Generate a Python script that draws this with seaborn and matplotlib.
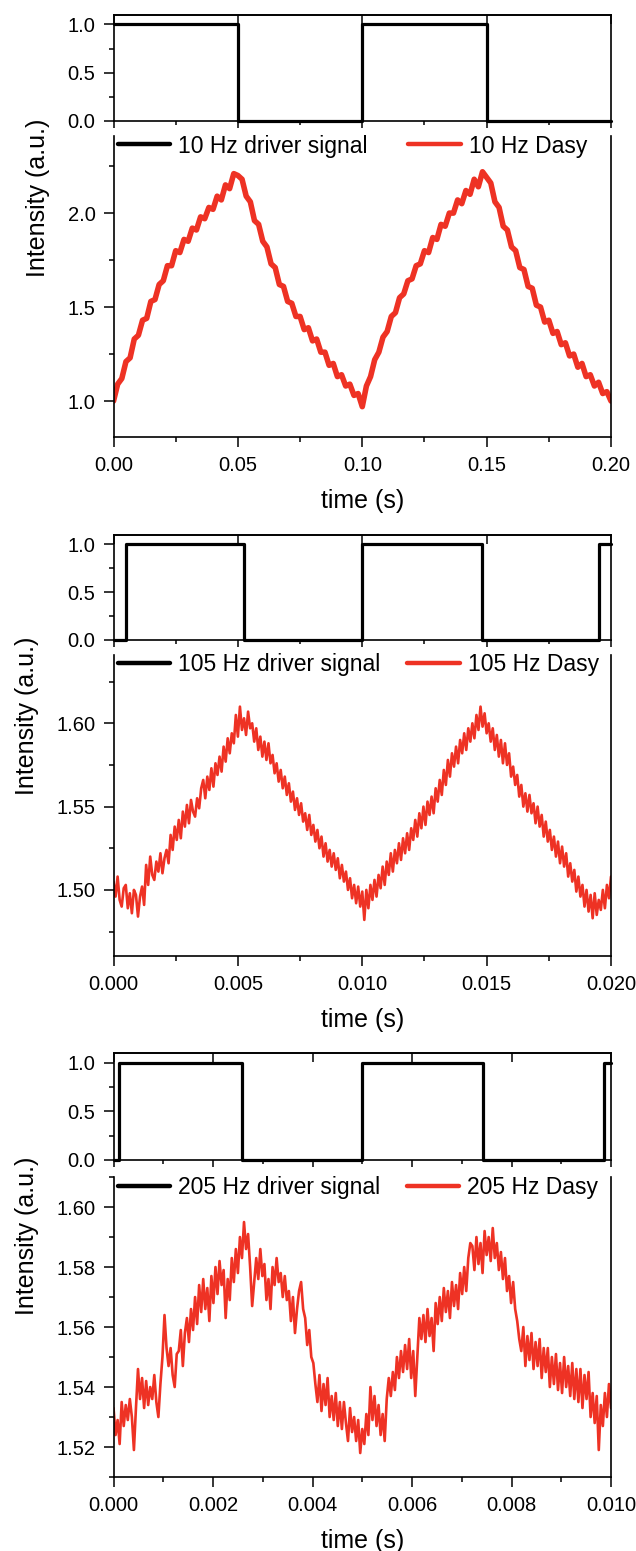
import numpy as np
import matplotlib
matplotlib.use('Agg')
import matplotlib.pyplot as plt
from matplotlib.lines import Line2D
from matplotlib.ticker import MultipleLocator, FormatStrFormatter
import seaborn as sns

sns.set_style('ticks')
plt.rcParams['font.family'] = ['Liberation Sans', 'DejaVu Sans']
for key in ['text.color', 'axes.labelcolor', 'xtick.color', 'ytick.color', 'axes.edgecolor']:
    plt.rcParams[key] = 'black'

RED = '#EE3224'

# driver signal: edge times and levels (steps-post)
drv10_t = [0.0, 0.05, 0.10, 0.15, 0.20]
drv10_v = [1, 0, 1, 0, 0]
drv105_t = [0.0, 0.00052, 0.00525, 0.0100, 0.0148, 0.0195, 0.0200]
drv105_v = [0, 1, 0, 1, 0, 1, 1]
drv205_t = [0.0, 0.0001, 0.00258, 0.0050, 0.00742, 0.00986, 0.0100]
drv205_v = [0, 1, 0, 1, 0, 1, 1]

dasy10 = [1.00, 1.09, 1.12, 1.21, 1.23, 1.33, 1.35, 1.43, 1.44, 1.53,
          1.54, 1.62, 1.64, 1.72, 1.72, 1.80, 1.79, 1.86, 1.85, 1.92,
          1.91, 1.98, 1.97, 2.03, 2.02, 2.09, 2.07, 2.15, 2.13, 2.21,
          2.20, 2.18, 2.09, 2.06, 1.96, 1.94, 1.85, 1.82, 1.73, 1.71,
          1.62, 1.61, 1.53, 1.52, 1.45, 1.45, 1.38, 1.39, 1.32, 1.33,
          1.26, 1.26, 1.19, 1.20, 1.13, 1.14, 1.08, 1.09, 1.03, 1.04,
          0.97, 1.08, 1.13, 1.22, 1.26, 1.34, 1.37, 1.45, 1.47, 1.55,
          1.57, 1.64, 1.65, 1.72, 1.73, 1.80, 1.79, 1.87, 1.86, 1.94,
          1.93, 2.00, 2.00, 2.07, 2.05, 2.12, 2.10, 2.18, 2.14, 2.22,
          2.19, 2.16, 2.06, 2.03, 1.93, 1.91, 1.82, 1.80, 1.71, 1.70,
          1.61, 1.60, 1.51, 1.50, 1.42, 1.43, 1.36, 1.37, 1.30, 1.31,
          1.24, 1.25, 1.18, 1.20, 1.13, 1.14, 1.08, 1.10, 1.04, 1.05,
          1.00]

dasy105 = [1.505, 1.496, 1.508, 1.494, 1.490, 1.501, 1.503, 1.489, 1.498, 1.486,
           1.500, 1.497, 1.484, 1.496, 1.502, 1.491, 1.515, 1.503, 1.520, 1.509,
           1.506, 1.517, 1.511, 1.522, 1.510, 1.519, 1.524, 1.516, 1.533, 1.524,
           1.538, 1.530, 1.542, 1.531, 1.547, 1.538, 1.551, 1.540, 1.554, 1.547,
           1.544, 1.555, 1.549, 1.561, 1.566, 1.555, 1.568, 1.560, 1.573, 1.562,
           1.576, 1.569, 1.580, 1.571, 1.586, 1.577, 1.591, 1.582, 1.594, 1.588,
           1.605, 1.592, 1.610, 1.596, 1.603, 1.593, 1.607, 1.597, 1.600, 1.589,
           1.597, 1.584, 1.592, 1.580, 1.589, 1.578, 1.588, 1.576, 1.581, 1.570,
           1.576, 1.565, 1.572, 1.561, 1.568, 1.557, 1.564, 1.553, 1.559, 1.548,
           1.555, 1.545, 1.552, 1.541, 1.546, 1.536, 1.545, 1.533, 1.539, 1.529,
           1.536, 1.525, 1.532, 1.520, 1.528, 1.517, 1.524, 1.514, 1.522, 1.512,
           1.519, 1.507, 1.515, 1.505, 1.511, 1.500, 1.507, 1.495, 1.503, 1.492,
           1.502, 1.490, 1.499, 1.482, 1.500, 1.489, 1.503, 1.494, 1.506, 1.496,
           1.509, 1.501, 1.514, 1.503, 1.517, 1.509, 1.522, 1.511, 1.524, 1.516,
           1.528, 1.518, 1.531, 1.522, 1.534, 1.524, 1.537, 1.530, 1.542, 1.532,
           1.546, 1.537, 1.550, 1.539, 1.553, 1.545, 1.556, 1.546, 1.561, 1.553,
           1.566, 1.557, 1.572, 1.563, 1.578, 1.568, 1.582, 1.574, 1.586, 1.576,
           1.590, 1.582, 1.594, 1.584, 1.597, 1.589, 1.600, 1.591, 1.605, 1.596,
           1.610, 1.598, 1.606, 1.594, 1.600, 1.589, 1.597, 1.584, 1.593, 1.580,
           1.590, 1.576, 1.588, 1.575, 1.582, 1.568, 1.574, 1.563, 1.569, 1.556,
           1.563, 1.550, 1.558, 1.547, 1.557, 1.546, 1.552, 1.540, 1.550, 1.538,
           1.545, 1.532, 1.541, 1.529, 1.536, 1.524, 1.532, 1.520, 1.529, 1.516,
           1.526, 1.514, 1.522, 1.508, 1.516, 1.505, 1.512, 1.499, 1.508, 1.496,
           1.503, 1.490, 1.500, 1.487, 1.497, 1.483, 1.498, 1.485, 1.494, 1.488,
           1.500, 1.489, 1.503, 1.495, 1.508]

dasy205 = [1.533, 1.524, 1.529, 1.521, 1.535, 1.527, 1.534, 1.529, 1.536, 1.530,
           1.519, 1.533, 1.546, 1.536, 1.543, 1.533, 1.542, 1.534, 1.540, 1.536,
           1.544, 1.535, 1.530, 1.541, 1.550, 1.564, 1.553, 1.547, 1.553, 1.544,
           1.540, 1.551, 1.552, 1.559, 1.547, 1.558, 1.563, 1.555, 1.566, 1.559,
           1.570, 1.561, 1.574, 1.565, 1.576, 1.566, 1.573, 1.562, 1.577, 1.568,
           1.580, 1.571, 1.582, 1.574, 1.579, 1.563, 1.576, 1.569, 1.583, 1.575,
           1.586, 1.578, 1.590, 1.583, 1.595, 1.586, 1.591, 1.580, 1.567, 1.575,
           1.583, 1.576, 1.586, 1.577, 1.581, 1.569, 1.576, 1.566, 1.580, 1.574,
           1.583, 1.575, 1.578, 1.570, 1.577, 1.569, 1.572, 1.562, 1.570, 1.558,
           1.566, 1.572, 1.575, 1.566, 1.563, 1.554, 1.559, 1.550, 1.548, 1.541,
           1.535, 1.544, 1.532, 1.541, 1.534, 1.543, 1.530, 1.537, 1.529, 1.538,
           1.527, 1.535, 1.526, 1.535, 1.528, 1.522, 1.533, 1.525, 1.530, 1.522,
           1.529, 1.518, 1.526, 1.521, 1.531, 1.524, 1.540, 1.529, 1.537, 1.527,
           1.534, 1.524, 1.531, 1.522, 1.536, 1.543, 1.537, 1.545, 1.539, 1.550,
           1.543, 1.552, 1.545, 1.554, 1.546, 1.556, 1.543, 1.552, 1.537, 1.550,
           1.563, 1.556, 1.564, 1.555, 1.566, 1.557, 1.563, 1.552, 1.568, 1.561,
           1.570, 1.562, 1.573, 1.565, 1.572, 1.563, 1.575, 1.567, 1.574, 1.566,
           1.578, 1.571, 1.580, 1.572, 1.583, 1.588, 1.587, 1.579, 1.590, 1.581,
           1.588, 1.578, 1.592, 1.584, 1.590, 1.582, 1.593, 1.583, 1.588, 1.579,
           1.585, 1.576, 1.583, 1.572, 1.577, 1.568, 1.575, 1.566, 1.562, 1.556,
           1.552, 1.560, 1.547, 1.557, 1.549, 1.558, 1.546, 1.555, 1.547, 1.556,
           1.543, 1.553, 1.545, 1.553, 1.540, 1.550, 1.541, 1.551, 1.539, 1.548,
           1.538, 1.550, 1.540, 1.547, 1.537, 1.548, 1.536, 1.546, 1.535, 1.546,
           1.533, 1.544, 1.536, 1.545, 1.530, 1.538, 1.528, 1.537, 1.519, 1.534,
           1.527, 1.538, 1.530, 1.541, 1.533]

panels = [
    dict(freq='10', drv_t=drv10_t, drv_v=drv10_v, dasy=dasy10, xmax=0.20,
         xmaj=0.05, xmin=0.025, xfmt='%.2f', ylim=(0.81, 2.41), ymaj=0.5, ymin=0.25,
         yfmt='%.1f', lw=4.0, top_b=0.9220, top_h=0.0685, bot_b=0.7184, bot_h=0.1939,
         colsp=1.75, ylab=(38, 198)),
    dict(freq='105', drv_t=drv105_t, drv_v=drv105_v, dasy=dasy105, xmax=0.020,
         xmaj=0.005, xmin=0.0025, xfmt='%.3f', ylim=(1.4605, 1.641), ymaj=0.05, ymin=0.025,
         yfmt='%.2f', lw=1.9, top_b=0.5874, top_h=0.0679, bot_b=0.3838, bot_h=0.1939,
         colsp=1.15, ylab=(27, 716)),
    dict(freq='205', drv_t=drv205_t, drv_v=drv205_v, dasy=dasy205, xmax=0.010,
         xmaj=0.002, xmin=0.001, xfmt='%.3f', ylim=(1.51, 1.61), ymaj=0.02, ymin=0.01,
         yfmt='%.2f', lw=1.9, top_b=0.2521, top_h=0.0688, bot_b=0.0477, bot_h=0.1934,
         colsp=1.15, ylab=(27, 1236)),
]

W_PX, H_PX = 636, 1551
L, W = 0.1785, 0.7822

fig = plt.figure(figsize=(W_PX / 100, H_PX / 100), dpi=100)

for p in panels:
    ax_top = fig.add_axes([L, p['top_b'], W, p['top_h']])
    ax = fig.add_axes([L, p['bot_b'], W, p['bot_h']])

    # driver square wave
    sns.lineplot(x=p['drv_t'], y=p['drv_v'], ax=ax_top, color='black', lw=2.3,
                 drawstyle='steps-post', estimator=None, sort=False, clip_on=False)
    ax_top.set_xlim(0, p['xmax'])
    ax_top.set_ylim(0, 1.1)
    ax_top.set_xlabel('')
    ax_top.set_ylabel('')
    ax_top.xaxis.set_major_locator(MultipleLocator(p['xmaj']))
    ax_top.xaxis.set_minor_locator(MultipleLocator(p['xmin']))
    ax_top.yaxis.set_major_locator(MultipleLocator(0.5))
    ax_top.yaxis.set_minor_locator(MultipleLocator(0.25))
    ax_top.yaxis.set_major_formatter(FormatStrFormatter('%.1f'))
    ax_top.tick_params(axis='x', which='both', labelbottom=False, direction='out', width=1.1)
    ax_top.tick_params(axis='x', which='major', length=5)
    ax_top.tick_params(axis='x', which='minor', length=3)
    ax_top.tick_params(axis='y', which='major', length=7, width=1.1, labelsize=14.5, pad=6)
    ax_top.tick_params(axis='y', which='minor', length=3.5, width=1.1)
    sec = ax_top.secondary_xaxis('top')
    sec.xaxis.set_major_locator(MultipleLocator(p['xmaj']))
    sec.tick_params(direction='in', length=6.5, width=1.1, labeltop=False)
    for s in ax_top.spines.values():
        s.set_linewidth(1.2)
    sec.spines['top'].set_linewidth(1.2)

    # Dasy response
    t = np.linspace(0, p['xmax'], len(p['dasy']))
    sns.lineplot(x=t, y=p['dasy'], ax=ax, color=RED, lw=p['lw'],
                 estimator=None, sort=False)
    ax.set_xlim(0, p['xmax'])
    ax.set_ylim(*p['ylim'])
    ax.xaxis.set_major_locator(MultipleLocator(p['xmaj']))
    ax.xaxis.set_minor_locator(MultipleLocator(p['xmin']))
    ax.yaxis.set_major_locator(MultipleLocator(p['ymaj']))
    ax.yaxis.set_minor_locator(MultipleLocator(p['ymin']))
    ax.xaxis.set_major_formatter(FormatStrFormatter(p['xfmt']))
    ax.yaxis.set_major_formatter(FormatStrFormatter(p['yfmt']))
    ax.tick_params(which='major', length=7, width=1.1, labelsize=14.5)
    ax.tick_params(which='minor', length=3.5, width=1.1)
    ax.tick_params(axis='x', pad=7)
    ax.tick_params(axis='y', pad=6)
    ax.spines['top'].set_visible(False)
    for side in ['left', 'right', 'bottom']:
        ax.spines[side].set_linewidth(1.2)
    ax.set_xlabel('time (s)', fontsize=18, labelpad=10)
    ax.set_ylabel('')

    handles = [Line2D([], [], color='black', lw=3.2), Line2D([], [], color=RED, lw=3.2)]
    labels = [p['freq'] + ' Hz driver signal', p['freq'] + ' Hz Dasy']
    ax.legend(handles, labels, loc='upper left', bbox_to_anchor=(0.008, 1.005), ncol=2,
              frameon=False, fontsize=16.5, handlelength=2.3, handletextpad=0.35,
              columnspacing=p['colsp'], borderpad=0, borderaxespad=0)

    fig.text(p['ylab'][0] / W_PX, 1 - p['ylab'][1] / H_PX, 'Intensity (a.u.)',
             rotation=90, ha='center', va='center', fontsize=18)

fig.savefig('out.png', dpi=100)
